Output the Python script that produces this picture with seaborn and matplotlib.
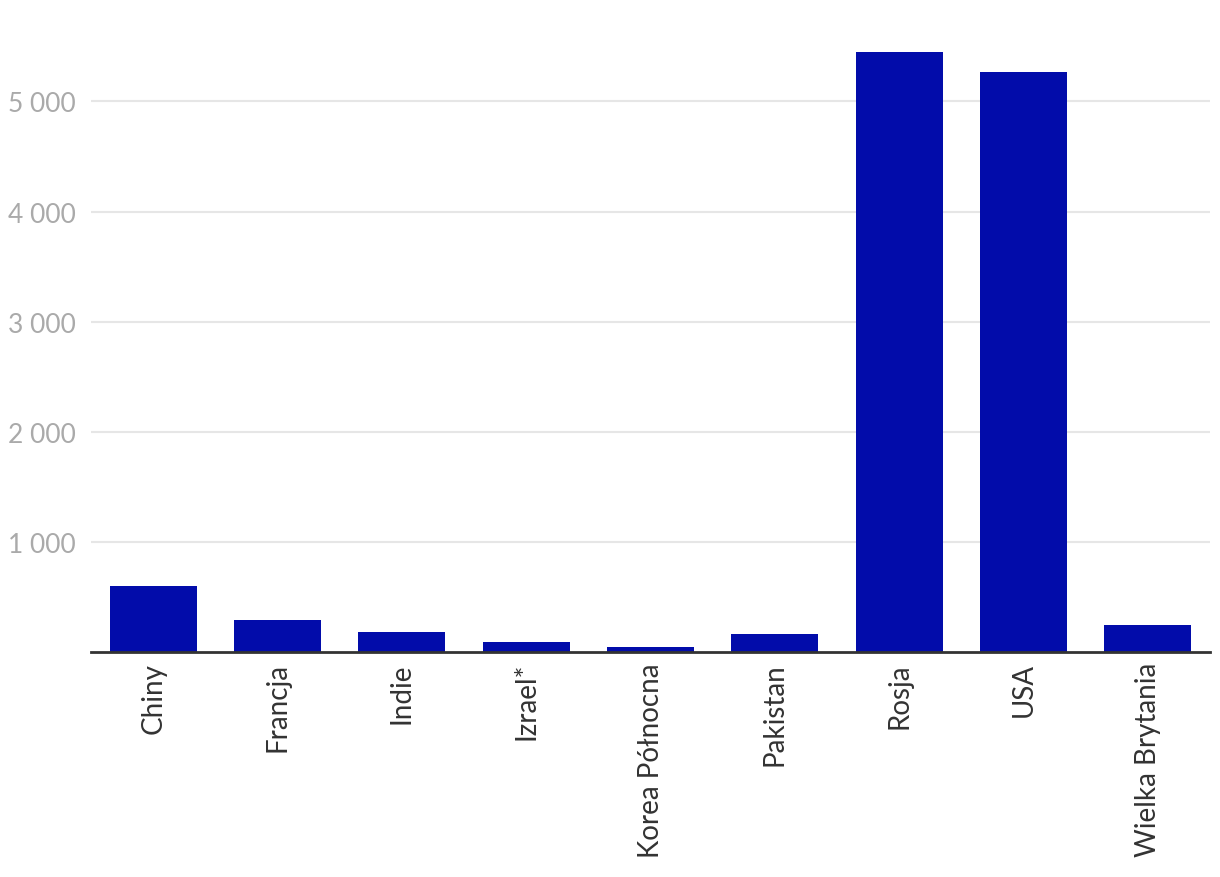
import matplotlib.pyplot as plt
import matplotlib.ticker as mticker
import seaborn as sns
import pandas as pd

countries = ['Chiny', 'Francja', 'Indie', 'Izrael*', 'Korea Północna',
             'Pakistan', 'Rosja', 'USA', 'Wielka Brytania']
warheads = [600, 290, 180, 90, 50, 170, 5445, 5270, 250]
yticks = [1000, 2000, 3000, 4000, 5000]

df = pd.DataFrame({'kraj': countries, 'glowice': warheads})

sns.set_style('white')
plt.rcParams['font.family'] = ['Lato', 'DejaVu Sans']

fig = plt.figure(figsize=(12.2, 8.78), dpi=100)
ax = fig.add_axes([0.0746, 0.2559, 0.9172, 0.7441])

sns.barplot(data=df, x='kraj', y='glowice', color='#020caa', saturation=1,
            width=0.7, linewidth=0, ax=ax, zorder=3)

ax.set_xlim(-0.5, len(countries) - 0.5)
ax.set_ylim(0, 5930)
ax.set_yticks(yticks)
ax.yaxis.set_major_formatter(
    mticker.FuncFormatter(lambda v, p: f'{int(v):,}'.replace(',', ' ')))
ax.grid(axis='y', color='#e6e6e6', lw=1.5, zorder=0)
ax.set_axisbelow(True)

for s in ['top', 'right', 'left']:
    ax.spines[s].set_visible(False)
ax.spines['bottom'].set_color('#333333')
ax.spines['bottom'].set_linewidth(2)
ax.spines['bottom'].set_zorder(4)

ax.tick_params(axis='y', length=0, pad=11, labelsize=19, labelcolor='#aaaaaa')
ax.tick_params(axis='x', length=0, pad=7, labelsize=20, labelcolor='#333333',
               labelrotation=90)
ax.set_xlabel('')
ax.set_ylabel('')

plt.savefig('out.png', dpi=100)
